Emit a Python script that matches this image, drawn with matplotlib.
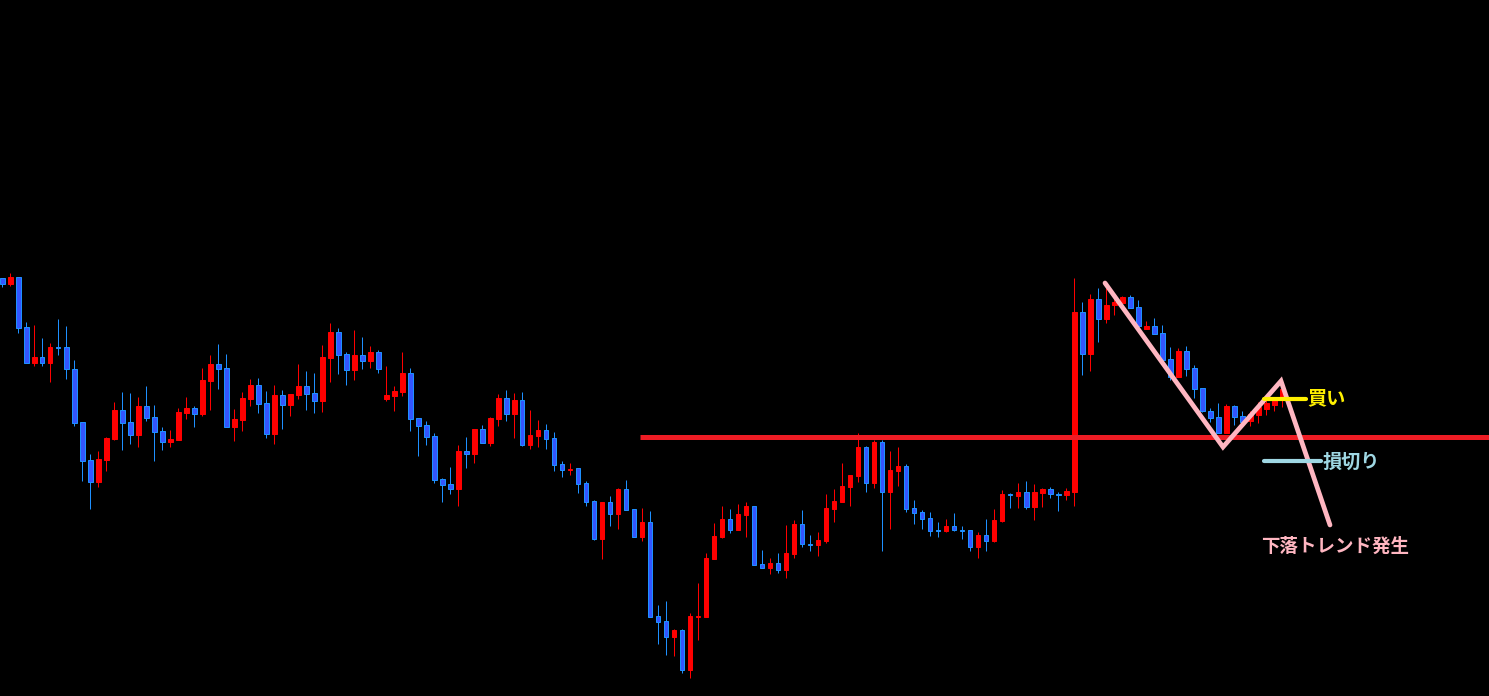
import matplotlib
matplotlib.use("Agg")
import matplotlib.pyplot as plt

# Candle data (vertical screen levels, smaller = higher price)
opens = [278,284,277,327,363,357,363,347,347,369,422,460,482,460,439,410,422,435,406,417,
         431,442,440,413,408,414,381,364,368,427,420,399,385,403,434,395,405,395,386,393,
         401,358,332,354,370,355,361,352,399,396,392,373,418,425,436,479,484,489,451,454,
         429,443,419,398,414,400,445,436,430,438,464,469.5,468,483,501,539,502,514,489,509,
         537,522,616,621,637,630,670,616.5,617,559,537,519,530,515,506,564,568,563,570,554,
         524,544,545,541,509,502,487,476,447,483,442,492,471,466,508,512,518,530,531,526,
         530,530,547,535,541,521,494,496,492,507,493,489,494,495,492,312,354,299,319,305,
         303,297,307,329,326,333,359,377,351,368,388,411,417,433,406,416,421,415,409,405,399]
highs = [278,273,277,322,325,338,343,319,326,360,422,454,451,437,402,392,393,397,386,405,
         427,430,408,397,406,368,355,344,354,409,392,379,378,391,385,390,394,364,371,373,
         345,323,328,352,330,337,346,350,366,386,352,368,418,421,433,478,467,445,437,429,
         425,417,394,390,393,392,410,420,424,432,461,463,468,481,500,502,496,488,480,509,
         508,511,605,601,629,629,613,583,553,523,506,509,504,502,506,550,558,553,525,520,
         510,535,532,494,489,463,475,433,446,440,440,451,447,464,500,510,512,522,519,513,
         526,530,532,519,509,490,493,483,481,484,488,487,492,488,278,302,294,288,288,298,
         296,295,300,321,318,325,347,348,346,365,388,408,403,404,405,411,411,402,399,398,388]
lows = [287,286,333,363,366,366,382,355,379,426,481,509,487,471,440,450,444,447,421,461,
        450,447,440,419,427,416,410,389,427,441,431,406,413,438,444,429,416,399,410,413,
        412,382,374,385,380,369,368,373,401,411,396,431,456,445,483,502,494,506,468,463,
        443,446,426,421,438,446,449,447,449,471,477,475,493,506,540,559,526,529,510,537,
        541,617,644,655,656,673,678,640,617,559,538,533,530,537,565,568,574,573,578,558,
        547,551,556,543,522,502,506,482,492,488,551,529,486,512,524,529,536,537,532,531,
        539,551,558,551,542,522,508,508,509,520,507,498,511,500,506,375,371,342,323,315,
        303,308,326,329,334,360,380,377,376,398,412,422,433,433,425,422,426,423,415,411,407]
closes = [284,277,328,363,357,363,347,348,369,423,461,482,459,438,410,423,435,406,418,432,
          442,439,412,408,414,380,364,369,427,419,398,385,404,434,395,405,394,386,394,401,
          357,332,355,370,355,361,352,369,395,391,373,419,426,437,480,485,489,451,454,429,
          443,418,398,414,400,445,435,430,439,465,470,468.5,484,502,539,502,514,489,510,537,
          522,617,622,637,630,670,616,616,558,536,519,530,514,506,565,568,563,570,553,524,
          544,544.5,540,508,501,486,475,447,483,442,492,470,466,509,513,519,531,530.5,526,530,
          530.5,547,535,541,520,494,494.5,492,507,492,489,494,494.5,491,312,354,299,319,305,302,
          297,308,326,326,334,360,377,351,369,389,411,418,433,406,417,422,414,407,403,400,389]

# Annotation texts
label_buy = "買い"
label_stop = "損切り"
label_trend = "下落トレンド発生"

plt.rcParams['font.family'] = ['Noto Sans CJK JP', 'DejaVu Sans']

W, H = 1489, 696
fig = plt.figure(figsize=(W / 100, H / 100), dpi=100)
fig.patch.set_facecolor('black')
ax = fig.add_axes([0, 0, 1, 1])
ax.set_facecolor('black')
ax.axis('off')

x0, step = 2.3, 8.0
def px(x):
    return (x - x0) / step

ax.set_xlim(px(0), px(W))
ax.set_ylim(H, 0)

UP = '#FF0000'
DN_FACE = '#3355FF'
DN_EDGE = '#1E90FF'
lw1 = 0.72

for i, (o, h, l, c) in enumerate(zip(opens, highs, lows, closes)):
    up = c < o
    wick_col = UP if up else DN_EDGE
    ax.vlines(i, h, l, color=wick_col, lw=lw1, zorder=2)
    height = c - o
    if abs(height) < 1:
        height = 1 if height >= 0 else -1
    if up:
        ax.bar(i, height, bottom=o, width=0.55, facecolor=UP, edgecolor=UP,
               linewidth=lw1, zorder=3)
    else:
        ax.bar(i, height, bottom=o, width=0.55, facecolor=DN_FACE, edgecolor=DN_EDGE,
               linewidth=lw1, zorder=3)

# Horizontal support line
ax.plot([px(640), px(W + 5)], [436.5, 436.5], color='#EE1C24', lw=3.6,
        solid_capstyle='butt', zorder=4)

# Pink zigzag
zx = [px(1105), px(1223), px(1281), px(1330)]
zy = [283, 447, 381, 525]
ax.plot(zx, zy, color='#FFB6C1', lw=3.4, solid_capstyle='round',
        solid_joinstyle='miter', zorder=5)

# Buy marker
ax.plot([px(1264), px(1306)], [399, 399], color='#FFF000', lw=3.0,
        solid_capstyle='round', zorder=6)
ax.text(px(1307), 399, label_buy, color='#FFF000', fontsize=13.8, fontweight='bold',
        ha='left', va='center', zorder=7)

# Stop-loss marker
ax.plot([px(1264), px(1321)], [461, 461], color='#9FD7E3', lw=3.0,
        solid_capstyle='round', zorder=6)
ax.text(px(1323), 462, label_stop, color='#9FD7E3', fontsize=13.8, fontweight='bold',
        ha='left', va='center', zorder=7)

# Trend label
ax.text(px(1261), 546, label_trend, color='#FFB6C1', fontsize=13.3, fontweight='bold',
        ha='left', va='center', zorder=7)

fig.savefig('out.png', dpi=100, facecolor='black')
